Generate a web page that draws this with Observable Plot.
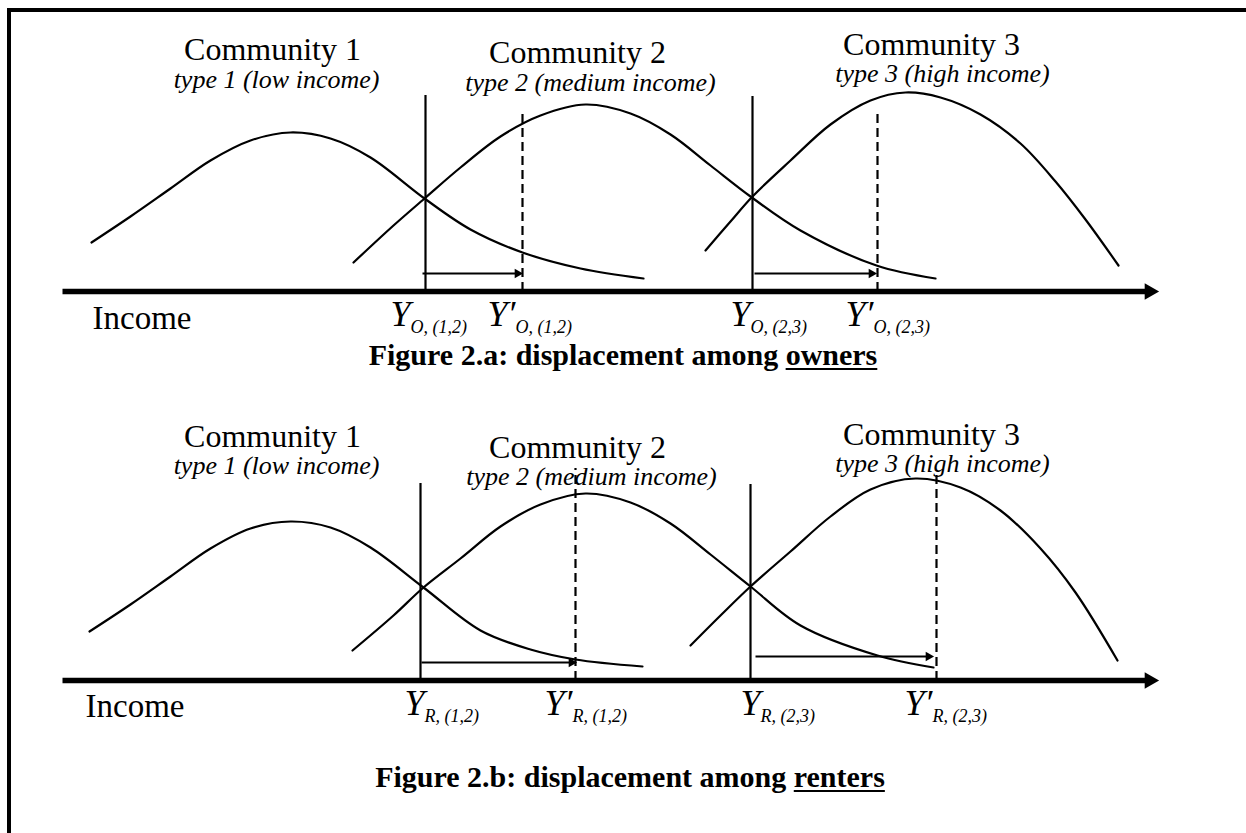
<!DOCTYPE html>
<html><head><meta charset="utf-8">
<script src="https://cdn.jsdelivr.net/npm/d3@7"></script>
<script src="https://cdn.jsdelivr.net/npm/@observablehq/plot@0.6"></script>
<style>
body{margin:0;background:#fff;}
#page{position:relative;width:1246px;height:833px;overflow:hidden;background:#fff;}
#frame{position:absolute;left:7px;top:8px;right:-10px;bottom:-10px;border-top:4px solid #000;border-left:4px solid #000;}
.panel{position:absolute;left:0;}
.caption{position:absolute;left:0;width:1246px;text-align:center;font-family:"Liberation Serif","Times New Roman",serif;font-weight:bold;font-size:30px;line-height:1;}
.caption u{text-decoration-thickness:2px;text-underline-offset:3px;}
</style></head><body><div id="page"><div id="frame"></div>
<div id="pa" class="panel" style="top:0"></div>
<div class="caption" style="top:340px">Figure 2.a: displacement among <u>owners</u></div>
<div id="pb" class="panel" style="top:389px"></div>
<div class="caption" style="top:762px;left:7px">Figure 2.b: displacement among <u>renters</u></div>
</div>
<script>
// ---- data (income units along the axis, density units above the axis) ----
const communityNames = ["Community 1", "Community 2", "Community 3"];
const communityTypes = ["type 1 (low income)", "type 2 (medium income)", "type 3 (high income)"];
const axisRange = [72, 1158];
const axisLabel = "Income";
const axisLabelPos = [[92, -37], [85, -36]];

// owners (Figure 2.a)
const ownersCurve1 = [[91,49],[130,75],[170,103],[210,131],[250,151],[290,159],[330,153],[370,134],[424,93],[470,62],[522,39],[580,23],[643,13]];
const ownersCurve2 = [[353,29],[393,66],[424,93],[460,124],[500,155],[540,176],[585,187],[630,178],[670,157],[710,126],[750,95],[800,61],[876,26],[935,13]];
const ownersCurve3 = [[705,41],[730,70],[752,95],[790,131],[830,167],[870,191],[905,199],[940,194],[980,177],[1020,148],[1055,110],[1085,72],[1118,26]];
const ownersSolidX = [425, 752];
const ownersSolidTop = [196, 195];
const ownersDashedX = [522, 877];
const ownersDashedTop = [178, 178];
const ownersShiftFrom = [428, 760];
const ownersShiftTo = [522, 876];
const ownersShiftLevel = [18, 18];
const ownersTickMain = ["Y", "Y\u2032", "Y", "Y\u2032"];
const ownersTickSub = ["O, (1,2)", "O, (1,2)", "O, (2,3)", "O, (2,3)"];
const ownersTickX = [410, 515, 750, 873];
const ownersTitleX = [272, 577, 931];
const ownersTitleLevel = [232, 229, 237];
const ownersTypeX = [276, 590, 942];
const ownersTypeLevel = [204, 201, 210];

// renters (Figure 2.b)
const rentersCurve1 = [[89,49],[130,76],[170,104],[210,132],[250,152],[290,159],[330,153],[370,133],[423,93],[480,50],[530,31],[575,21],[642,14]];
const rentersCurve2 = [[352,30],[393,65],[423,93],[460,122],[500,154],[540,176],[585,187],[630,178],[670,157],[710,126],[750,94],[800,55],[877,25],[933,13]];
const rentersCurve3 = [[690,35],[720,65],[750,94],[790,129],[830,164],[870,191],[915,202],[960,193],[1000,170],[1040,132],[1075,88],[1117,20]];
const rentersSolidX = [420, 750];
const rentersSolidTop = [197, 196];
const rentersDashedX = [575, 936];
const rentersDashedTop = [212, 210];
const rentersShiftFrom = [427, 761];
const rentersShiftTo = [576, 933];
const rentersShiftLevel = [18, 24];
const rentersTickMain = ["Y", "Y\u2032", "Y", "Y\u2032"];
const rentersTickSub = ["R, (1,2)", "R, (1,2)", "R, (2,3)", "R, (2,3)"];
const rentersTickX = [424, 572, 760, 932];
const rentersTitleX = [272, 577, 931];
const rentersTitleLevel = [234, 223, 236];
const rentersTypeX = [276, 591, 942];
const rentersTypeLevel = [207, 196, 209];

const serif = "Liberation Serif, Times New Roman, serif";

function panel(p) {
  const titles = communityNames.map((t, i) => ({t, x: p.titleX[i], y: p.titleLevel[i]}));
  const types = communityTypes.map((t, i) => ({t, x: p.typeX[i], y: p.typeLevel[i]}));
  const shifts = p.shiftFrom.map((x1, i) => ({x1, x2: p.shiftTo[i], y: p.shiftLevel[i]}));
  const ticks = p.tickMain.map((m, i) => ({m, s: p.tickSub[i], x: p.tickX[i]}));
  const solid = p.solidX.map((x, i) => ({x, top: p.solidTop[i]}));
  const dashed = p.dashedX.map((x, i) => ({x, top: p.dashedTop[i]}));
  const axis = [{x1: axisRange[0], x2: axisRange[1]}];
  const curveOpts = {x: d => d[0], y: d => d[1], curve: "catmull-rom", strokeWidth: 2.2, stroke: "black"};
  return Plot.plot({
    width: 1246, height: 340, margin: 0,
    x: {domain: [0, 1246], range: [0, 1246], axis: null},
    y: {domain: [0, 291], range: [291, 0], axis: null},
    marks: [
      Plot.line(p.curves[0], curveOpts),
      Plot.line(p.curves[1], curveOpts),
      Plot.line(p.curves[2], curveOpts),
      Plot.ruleX(solid, {x: "x", y1: 0, y2: "top", stroke: "black", strokeWidth: 2.2}),
      Plot.ruleX(dashed, {x: "x", y1: 0, y2: "top", stroke: "black", strokeWidth: 2.2, strokeDasharray: "9,5"}),
      Plot.link(shifts, {x1: "x1", x2: "x2", y1: "y", y2: "y", stroke: "black", strokeWidth: 2, dx: -6}),
      Plot.dot(shifts, {x: "x2", y: "y", symbol: "triangle", rotate: 90, r: 3.6, fill: "black", stroke: null, dx: -5}),
      Plot.link(axis, {x1: "x1", x2: "x2", y1: () => 0, y2: () => 0, stroke: "black", strokeWidth: 5.5, dx: -10}),
      Plot.dot(axis, {x: "x2", y: () => 0, symbol: "triangle", rotate: 90, r: 6.2, fill: "black", stroke: null, dx: -9}),
      Plot.text(titles, {x: "x", y: "y", text: "t", fontFamily: serif, fontSize: 32, lineAnchor: "bottom", fill: "black"}),
      Plot.text(types, {x: "x", y: "y", text: "t", fontFamily: serif, fontSize: 26, fontStyle: "italic", lineAnchor: "bottom", fill: "black"}),
      Plot.text([p.axisLabel], {x: d => d[0], y: d => d[1], text: () => axisLabel, fontFamily: serif, fontSize: 33, textAnchor: "start", lineAnchor: "bottom", fill: "black"}),
      Plot.text(ticks, {x: "x", y: () => -34, text: "m", fontFamily: serif, fontSize: 36, fontStyle: "italic", textAnchor: "end", lineAnchor: "bottom", fill: "black"}),
      Plot.text(ticks, {x: "x", y: () => -41, text: "s", fontFamily: serif, fontSize: 18, fontStyle: "italic", textAnchor: "start", lineAnchor: "bottom", fill: "black"})
    ]
  });
}

document.getElementById("pa").appendChild(panel({
  curves: [ownersCurve1, ownersCurve2, ownersCurve3],
  solidX: ownersSolidX, solidTop: ownersSolidTop, dashedX: ownersDashedX, dashedTop: ownersDashedTop,
  shiftFrom: ownersShiftFrom, shiftTo: ownersShiftTo, shiftLevel: ownersShiftLevel,
  tickMain: ownersTickMain, tickSub: ownersTickSub, tickX: ownersTickX,
  titleX: ownersTitleX, titleLevel: ownersTitleLevel, typeX: ownersTypeX, typeLevel: ownersTypeLevel,
  axisLabel: axisLabelPos[0]
}));
document.getElementById("pb").appendChild(panel({
  curves: [rentersCurve1, rentersCurve2, rentersCurve3],
  solidX: rentersSolidX, solidTop: rentersSolidTop, dashedX: rentersDashedX, dashedTop: rentersDashedTop,
  shiftFrom: rentersShiftFrom, shiftTo: rentersShiftTo, shiftLevel: rentersShiftLevel,
  tickMain: rentersTickMain, tickSub: rentersTickSub, tickX: rentersTickX,
  titleX: rentersTitleX, titleLevel: rentersTitleLevel, typeX: rentersTypeX, typeLevel: rentersTypeLevel,
  axisLabel: axisLabelPos[1]
}));
</script>
</body></html>
